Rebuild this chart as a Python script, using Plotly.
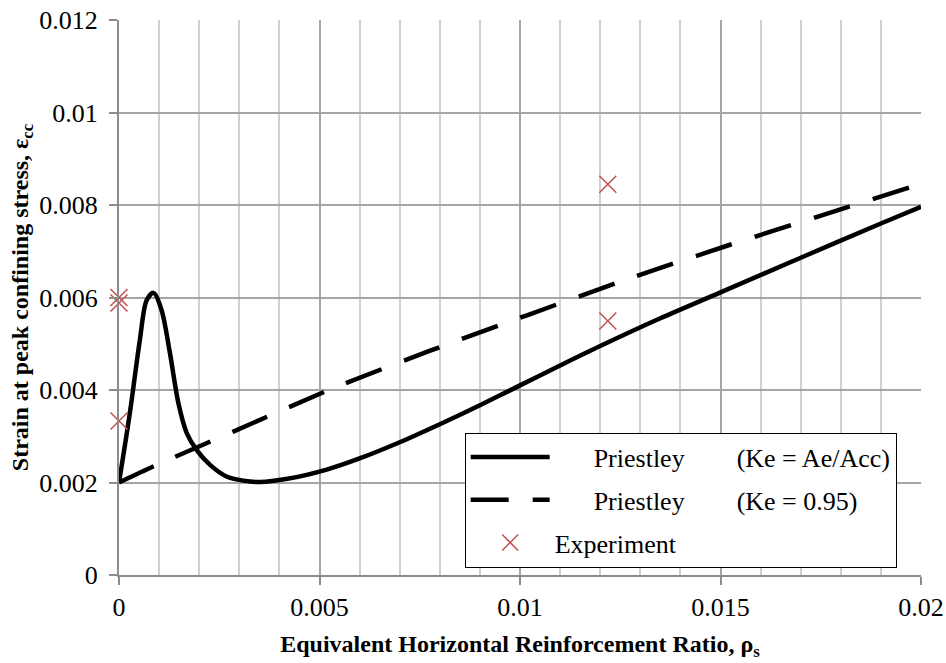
import plotly.graph_objects as go

# Priestley model, Ke = Ae/Acc
rho_ae = [0.0, 0.00027, 0.00052, 0.00069, 0.00086, 0.00106, 0.00127, 0.00148,
          0.00169, 0.00193, 0.00227, 0.00268, 0.0031, 0.00352, 0.0042, 0.00518,
          0.006, 0.007, 0.008, 0.009, 0.010, 0.011, 0.012, 0.0135, 0.015,
          0.017, 0.019, 0.020]
eps_ae = [0.0020, 0.0035, 0.00508, 0.00594, 0.0061, 0.00573, 0.0048, 0.00372,
          0.00307, 0.00271, 0.00238, 0.00213, 0.00204, 0.00201, 0.00208, 0.00228,
          0.00252, 0.00287, 0.00326, 0.00367, 0.00410, 0.00453, 0.00495, 0.00555, 0.00611,
          0.00686, 0.00760, 0.00796]

# Priestley model, Ke = 0.95
rho_095 = [0.0, 0.00094, 0.00285, 0.00526, 0.00776, 0.01266, 0.0152, 0.01815, 0.020]
eps_095 = [0.0020, 0.00238, 0.0031, 0.00401, 0.00485, 0.00639, 0.00713, 0.00795, 0.00846]

# Test results
rho_exp = [0.0, 0.0, 0.0, 0.01219, 0.01219]
eps_exp = [0.00600, 0.00588, 0.00333, 0.00845, 0.00549]

serif = "Liberation Serif"
sp = "\u00a0"

fig = go.Figure()
fig.add_trace(go.Scatter(
    x=rho_ae, y=eps_ae, mode="lines",
    line=dict(color="black", width=4.5, shape="spline", smoothing=0.9),
    name=sp * 6 + "Priestley" + sp * 8 + "(Ke = Ae/Acc)", legendgroup="a"))
fig.add_trace(go.Scatter(
    x=rho_095, y=eps_095, mode="lines",
    line=dict(color="black", width=4.5, dash="38px,24px", shape="spline", smoothing=0.6),
    name=sp * 6 + "Priestley" + sp * 8 + "(Ke = 0.95)", legendgroup="b"))
fig.add_trace(go.Scatter(
    x=rho_exp, y=eps_exp, mode="markers", cliponaxis=False,
    marker=dict(symbol="x-thin-open", size=17, line=dict(color="#C0504D", width=1.5), color="#C0504D"),
    name="Experiment", legendgroup="c"))

fig.update_layout(
    width=946, height=663,
    margin=dict(l=119, r=25, t=20, b=88),
    paper_bgcolor="white", plot_bgcolor="white",
    font=dict(family=serif, size=26, color="black"),
    showlegend=True,
    legend=dict(x=0.431, y=0.2566, xanchor="left", yanchor="top",
                bgcolor="white", bordercolor="black", borderwidth=1,
                font=dict(family=serif, size=26), itemwidth=79, tracegroupgap=6),
    xaxis=dict(
        range=[0, 0.02], dtick=0.005, tick0=0, automargin=False,
        showgrid=True, gridcolor="#a6a6a6", gridwidth=2,
        minor=dict(dtick=0.001, showgrid=True, gridcolor="#d0d0d0", gridwidth=2),
        showline=True, linecolor="#8c8c8c", linewidth=2,
        ticks="outside", ticklen=8, tickcolor="#8c8c8c", tickwidth=2,
        zeroline=False, tickfont=dict(family=serif, size=26),
        title=dict(text="<b>Equivalent Horizontal Reinforcement Ratio, ρ<sub>s</sub></b>",
                   font=dict(family=serif, size=24), standoff=14)),
    yaxis=dict(
        range=[0, 0.012], dtick=0.002, tick0=0, automargin=False,
        showgrid=True, gridcolor="#a6a6a6", gridwidth=2,
        showline=True, linecolor="#8c8c8c", linewidth=2,
        ticks="outside", ticklen=8, tickcolor="#8c8c8c", tickwidth=2,
        ticklabelstandoff=6,
        zeroline=False, tickfont=dict(family=serif, size=26),
        title=dict(text="<b>Strain at peak confining stress, ε<sub>cc</sub></b>",
                   font=dict(family=serif, size=24), standoff=4)),
)

fig.write_html("out.html")
